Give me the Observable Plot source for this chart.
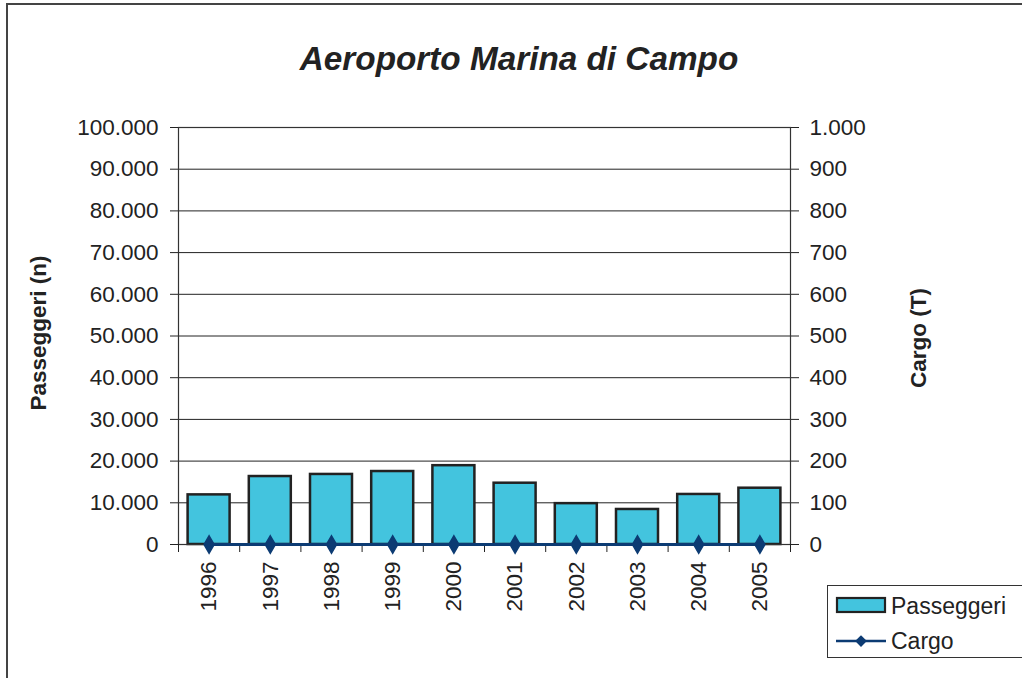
<!DOCTYPE html>
<html>
<head>
<meta charset="utf-8">
<script src="https://cdn.jsdelivr.net/npm/d3@7"></script>
<script src="https://cdn.jsdelivr.net/npm/@observablehq/plot@0.6"></script>
<style>
  html, body { margin: 0; padding: 0; background: #fff; }
  #wrap { position: relative; width: 1022px; height: 678px; overflow: hidden; font-family: "Liberation Sans", Arial, sans-serif; color: #222; }
  #border { position: absolute; left: 6px; top: 3px; width: 1100px; height: 800px; border-top: 2px solid #444; border-left: 2px solid #444; }
  #title { position: absolute; left: 0; width: 1038px; top: 42px; text-align: center; font-size: 33.3px; line-height: 1; font-weight: bold; font-style: italic; }
  #chart { position: absolute; left: 0; top: 0; }
  #legend { position: absolute; left: 827px; top: 585px; width: 210px; height: 71px; border: 1.5px solid #333; background: #fff; }
</style>
</head>
<body>
<div id="wrap">
  <div id="border"></div>
  <div id="chart"></div>
  <div id="title">Aeroporto Marina di Campo</div>
  <div id="legend"></div>
</div>
<script>
const years = [1996, 1997, 1998, 1999, 2000, 2001, 2002, 2003, 2004, 2005];
const passeggeri = [11900, 16300, 16800, 17500, 18900, 14700, 9800, 8400, 12000, 13500];
const cargo = [0, 0, 0, 0, 0, 0, 0, 0, 0, 0];
const leftTicks = [0, 10000, 20000, 30000, 40000, 50000, 60000, 70000, 80000, 90000, 100000];
const cargoFactor = 100; // right axis 0..1000 maps onto left axis 0..100000

const barFill = "#43c4de";
const navy = "#0c3b73";
const ink = "#222";

const data = years.map((y, i) => ({year: y, pass: passeggeri[i], cargo: cargo[i]}));
const fmt = d => d3.format(",")(d).replace(/,/g, ".");
const boundaries = years.map(y => y - 0.5).concat([years[years.length - 1] + 0.5]);

const chart = Plot.plot({
  width: 1022,
  height: 678,
  marginLeft: 178,
  marginRight: 232,
  marginTop: 127,
  marginBottom: 134,
  style: {fontFamily: "'Liberation Sans', Arial, sans-serif", fontSize: "22.5px", color: ink, background: "transparent", overflow: "visible"},
  x: {type: "linear", domain: [years[0] - 0.5, years[years.length - 1] + 0.5]},
  y: {domain: [0, 100000]},
  marks: [
    Plot.gridY({ticks: leftTicks, stroke: ink, strokeOpacity: 1, strokeWidth: 1}),
    Plot.rectY(data, {x1: d => d.year - 0.5, x2: d => d.year + 0.5, y1: 0, y2: "pass", insetLeft: 9.6, insetRight: 9.6, fill: barFill, stroke: ink, strokeWidth: 2.5}),
    Plot.frame({stroke: "#333", strokeWidth: 1.2}),
    Plot.axisY({ticks: leftTicks, tickFormat: fmt, tickSize: 8, tickPadding: 12, label: null, fontSize: 22.5}),
    Plot.axisY({anchor: "right", ticks: leftTicks, tickFormat: d => fmt(d / cargoFactor), tickSize: 8, tickPadding: 11, label: null, fontSize: 22.5}),
    Plot.axisX({ticks: boundaries, tickFormat: () => "", tickSize: 8, label: null}),
    Plot.axisX({ticks: years, tickSize: 0, tickPadding: 17, tickRotate: -90, tickFormat: d => String(d), label: null, fontSize: 22.5}),
    Plot.line(data, {x: "year", y: d => d.cargo * cargoFactor, stroke: navy, strokeWidth: 3.2}),
    Plot.dot(data, {x: "year", y: d => d.cargo * cargoFactor, symbol: "diamond", r: 5.3, fill: navy, stroke: navy}),
    Plot.text(["Passeggeri (n)"], {frameAnchor: "left", textAnchor: "middle", dx: -140, dy: -3, rotate: -90, text: d => d, fontWeight: "bold", fontSize: 22.5, fill: ink}),
    Plot.text(["Cargo (T)"], {frameAnchor: "right", textAnchor: "middle", dx: 128, dy: 2, rotate: -90, text: d => d, fontWeight: "bold", fontSize: 22.5, fill: ink})
  ]
});
document.getElementById("chart").appendChild(chart);

// Legend
const legendItems = ["Passeggeri", "Cargo"];
const lg = d3.select("#legend").append("svg").attr("width", 210).attr("height", 71)
  .style("font-family", "'Liberation Sans', Arial, sans-serif").style("font-size", "23px");
lg.append("rect").attr("x", 9).attr("y", 12).attr("width", 48).attr("height", 14)
  .attr("fill", barFill).attr("stroke", ink).attr("stroke-width", 2.2);
lg.append("text").attr("x", 63).attr("y", 27.5).attr("fill", ink).text(legendItems[0]);
lg.append("line").attr("x1", 8).attr("x2", 58).attr("y1", 55).attr("y2", 55).attr("stroke", navy).attr("stroke-width", 2.5);
lg.append("path").attr("d", d3.symbol(d3.symbolDiamond2, 88)()).attr("transform", "translate(33,55)").attr("fill", navy);
lg.append("text").attr("x", 63).attr("y", 63).attr("fill", ink).text(legendItems[1]);
</script>
</body>
</html>
